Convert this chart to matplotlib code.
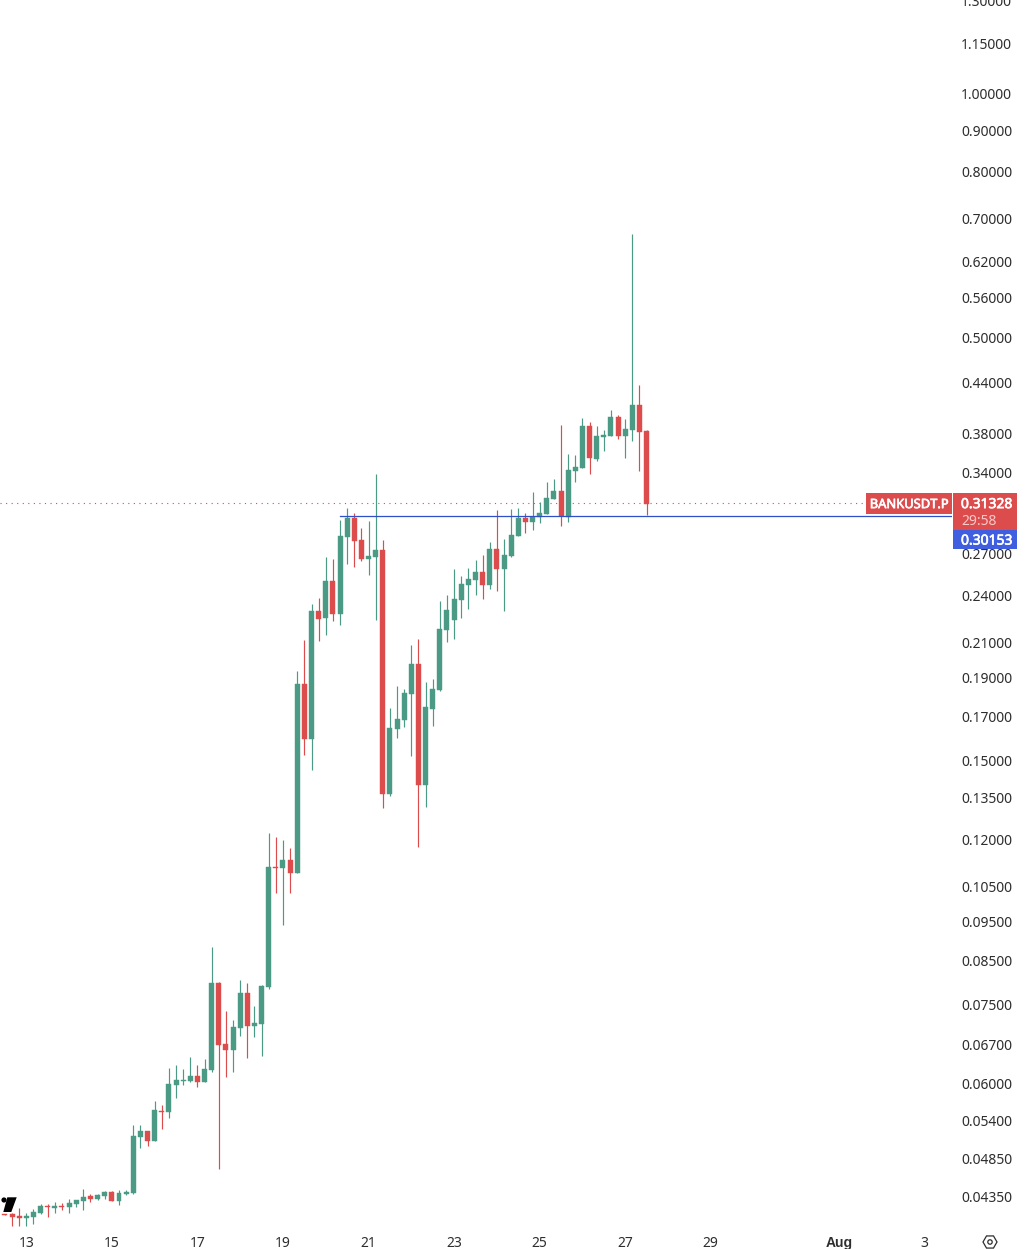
import matplotlib
matplotlib.use('Agg')
import matplotlib.pyplot as plt
import matplotlib.patheffects as pe
from matplotlib.patches import Rectangle, Polygon, Circle, RegularPolygon
from matplotlib.transforms import Affine2D

plt.rcParams['font.family'] = ['Noto Sans', 'DejaVu Sans']

# 4h candles of BANKUSDT.P, index 3 is Jul 13 00:00
opens = [0.04147, 0.04151, 0.04127, 0.04108, 0.04116, 0.04163, 0.04246, 0.04226, 0.04250, 0.04234,
         0.04271, 0.04307, 0.04369, 0.04332, 0.04369, 0.04419, 0.04307, 0.04394, 0.04406, 0.05166,
         0.05255, 0.05108, 0.05567, 0.05546, 0.05988, 0.06057, 0.06057, 0.06144, 0.06040, 0.06249,
         0.08001, 0.06728, 0.06614, 0.07041, 0.07777, 0.07081, 0.07122, 0.07911, 0.11124, 0.11093,
         0.11348, 0.10936, 0.18710, 0.16003, 0.23021, 0.22568, 0.25069, 0.22826, 0.28407, 0.29983,
         0.28166, 0.26686, 0.26838, 0.27377, 0.13688, 0.16464, 0.16891, 0.18186, 0.19803, 0.14043,
         0.17427, 0.18393, 0.21812, 0.22440, 0.23752, 0.24786, 0.25141, 0.25719, 0.24786, 0.27455,
         0.25939, 0.26915, 0.28488, 0.29983, 0.29644, 0.30068, 0.30325, 0.31646, 0.32373, 0.30068,
         0.34266, 0.34559, 0.38939, 0.35454, 0.37741, 0.37848, 0.39947, 0.37848, 0.38499, 0.41332,
         0.38389]
closes = [0.04139, 0.04116, 0.04108, 0.04127, 0.04175, 0.04246, 0.04238, 0.04246, 0.04238, 0.04283,
          0.04319, 0.04356, 0.04332, 0.04381, 0.04419, 0.04307, 0.04406, 0.04422, 0.05181, 0.05255,
          0.05108, 0.05578, 0.05551, 0.06005, 0.06074, 0.06074, 0.06144, 0.06040, 0.06267, 0.08001,
          0.06709, 0.06614, 0.07061, 0.07777, 0.07081, 0.07142, 0.07933, 0.11124, 0.11093, 0.11348,
          0.10936, 0.18710, 0.16003, 0.23021, 0.22504, 0.25069, 0.22826, 0.28488, 0.29983, 0.28086,
          0.26686, 0.26915, 0.27377, 0.13688, 0.16511, 0.16939, 0.18237, 0.19803, 0.14043, 0.17526,
          0.18446, 0.21874, 0.23087, 0.23820, 0.24857, 0.25212, 0.25719, 0.24786, 0.27455, 0.25939,
          0.26991, 0.28569, 0.29983, 0.29644, 0.30068, 0.30412, 0.31736, 0.32373, 0.30154, 0.34363,
          0.34657, 0.38939, 0.35555, 0.37848, 0.37956, 0.39947, 0.37848, 0.38608, 0.41332, 0.38281,
          0.31199]
highs = [0.04147, 0.04159, 0.04222, 0.04159, 0.04207, 0.04271, 0.04271, 0.04295, 0.04279, 0.04332,
         0.04326, 0.04457, 0.04394, 0.04394, 0.04431, 0.04428, 0.04444, 0.04444, 0.05345, 0.05345,
         0.05255, 0.05722, 0.05658, 0.06285, 0.06339, 0.06267, 0.06484, 0.06339, 0.06448, 0.08863,
         0.08024, 0.07389, 0.07203, 0.08070, 0.08001, 0.07495, 0.07956, 0.12253, 0.12114, 0.12011,
         0.11741, 0.19413, 0.21201, 0.23484, 0.23887, 0.26838, 0.26686, 0.29813, 0.30847, 0.30412,
         0.29143, 0.29728, 0.33975, 0.28166, 0.17476, 0.18604, 0.18446, 0.20902, 0.21261, 0.18816,
         0.18977, 0.23685, 0.24092, 0.25939, 0.25428, 0.26013, 0.26611, 0.26991, 0.28007, 0.30672,
         0.28246, 0.30759, 0.30847, 0.30412, 0.32281, 0.31377, 0.33212, 0.33496, 0.39049, 0.35961,
         0.35859, 0.39834, 0.39384, 0.38939, 0.38499, 0.40749, 0.40175, 0.39721, 0.67185, 0.43749,
         0.38499]
lows = [0.04136, 0.04012, 0.04012, 0.04012, 0.04035, 0.04151, 0.04116, 0.04163, 0.04198, 0.04163,
        0.04234, 0.04198, 0.04295, 0.04319, 0.04332, 0.04307, 0.04259, 0.04381, 0.04397, 0.05007,
        0.05036, 0.05108, 0.05285, 0.05453, 0.05771, 0.05988, 0.06040, 0.05955, 0.06040, 0.06214,
        0.04717, 0.06126, 0.06214, 0.06883, 0.06466, 0.06863, 0.06503, 0.07866, 0.10332, 0.09435,
        0.10332, 0.10936, 0.15292, 0.14654, 0.21141, 0.21504, 0.22376, 0.22124, 0.26310, 0.26087,
        0.26535, 0.25500, 0.22440, 0.13154, 0.13611, 0.16049, 0.16558, 0.15249, 0.11775, 0.13192,
        0.16605, 0.18341, 0.21081, 0.21261, 0.22568, 0.23152, 0.24092, 0.23820, 0.24506, 0.24367,
        0.23021, 0.26838, 0.28488, 0.28732, 0.28978, 0.29560, 0.30325, 0.31646, 0.29309, 0.29644,
        0.33212, 0.34559, 0.33975, 0.35253, 0.36269, 0.37848, 0.37527, 0.35555, 0.37314, 0.34266,
        0.30239]

price_ticks = [1.30, 1.15, 1.00, 0.90, 0.80, 0.70, 0.62, 0.56, 0.50, 0.44, 0.38, 0.34, 0.27, 0.24,
               0.21, 0.19, 0.17, 0.15, 0.135, 0.12, 0.105, 0.095, 0.085, 0.075, 0.067, 0.060, 0.054,
               0.0485, 0.0435]
time_ticks = [3, 15, 27, 39, 51, 63, 75, 87, 99, 117, 129]
time_labels = ['13', '15', '17', '19', '21', '23', '25', '27', '29', 'Aug', '3']

symbol = 'BANKUSDT.P'
last_price = 0.31328
countdown = '29:58'
level_price = 0.30153

GREEN = '#4a9a85'
RED = '#dc4c4c'
BLUE = '#3f5fe0'
TEXT = '#2e2e2e'
W, H = 1026, 1249

fig = plt.figure(figsize=(W / 100, H / 100), dpi=100)
ax = fig.add_axes([0, 21 / H, 952 / W, 1228 / H])
ax.set_yscale('log')
ax.set_xlim(-0.69, 132.83)
ax.set_ylim(0.0399, 1.3062)

for i in range(len(opens)):
    up = closes[i] >= opens[i]
    c = GREEN if up else RED
    ax.vlines(i, lows[i], highs[i], color=c, lw=0.85, zorder=2)
    ax.bar(i, abs(closes[i] - opens[i]), bottom=min(opens[i], closes[i]), width=0.7,
           color=c, edgecolor=c, lw=0.3, zorder=2)

ax.axhline(last_price, xmin=0, xmax=866 / 952, color=RED, lw=0.8, ls=(0, (1, 4)), zorder=1)
ax.axhline(level_price, xmin=340 / 952, xmax=1, color='#2f4fc8', lw=0.9, zorder=3)

for s in ax.spines.values():
    s.set_visible(False)
ax.minorticks_off()
ax.yaxis.tick_right()
ax.set_yticks(price_ticks)
ax.set_yticklabels(['%.5f' % p for p in price_ticks], color=TEXT, fontsize=10)
ax.set_xticks(time_ticks)
ax.set_xticklabels(time_labels, color=TEXT, fontsize=10)
ax.tick_params(axis='both', length=0)
ax.tick_params(axis='y', pad=6.6)
ax.tick_params(axis='x', pad=6)
aug = ax.get_xticklabels()[time_labels.index('Aug')]
aug.set_fontfamily('Liberation Sans')
aug.set_fontweight('bold')
# scale labels sit a pixel higher than the default centring
shift = Affine2D().translate(0, 1)
for lab in ax.get_yticklabels():
    lab.set_transform(lab.get_transform() + shift)

# labels on the price scale, in image pixels
px = Affine2D().scale(1, -1).translate(0, H)
ax.add_patch(Rectangle((866, 493), 86, 21, color=RED, transform=px, clip_on=False, zorder=4, lw=0))
ax.add_patch(Rectangle((953, 493), 64, 37, color=RED, transform=px, clip_on=False, zorder=4, lw=0))
ax.add_patch(Rectangle((953, 530), 64, 19, color=BLUE, transform=px, clip_on=False, zorder=4, lw=0))

pos = ('axes fraction', 'data')
heavy = [pe.withStroke(linewidth=0.5, foreground='white')]
ax.annotate(symbol, (909 / 952, last_price), xycoords=pos, xytext=(0, -2), textcoords='offset pixels',
            ha='center', va='center', color='white', fontsize=9.3, zorder=5, annotation_clip=False,
            path_effects=heavy)
ax.annotate('%.5f' % last_price, (986.5 / 952, last_price), xycoords=pos, xytext=(0, -2),
            textcoords='offset pixels', ha='center', va='center', color='white', fontsize=10,
            zorder=5, annotation_clip=False, path_effects=heavy)
ax.annotate(countdown, (979.5 / 952, last_price), xycoords=pos, xytext=(0, -19), textcoords='offset pixels',
            ha='center', va='center', color='#f7c9c9', fontsize=10, zorder=5, annotation_clip=False)
ax.annotate('%.5f' % level_price, (986.5 / 952, level_price), xycoords=pos, xytext=(0, -25),
            textcoords='offset pixels', ha='center', va='center', color='white', fontsize=10,
            zorder=5, annotation_clip=False, path_effects=heavy)

# logo and settings icon
ax.add_patch(Polygon([(7.3, 1197.3), (16.7, 1197.3), (11.3, 1212), (3.3, 1212)], color='black',
                     transform=px, clip_on=False, zorder=6, lw=0))
ax.add_patch(Circle((4, 1200), 2.6, color='black', transform=px, clip_on=False, zorder=6, lw=0))
ax.add_patch(RegularPolygon((990, 1242), 6, radius=7, orientation=0.5236, fill=False, ec=TEXT, lw=0.9,
                            transform=px, clip_on=False))
ax.add_patch(Circle((990, 1242), 2.2, fill=False, ec=TEXT, lw=0.9, transform=px, clip_on=False))

fig.savefig('out.png', dpi=100)
